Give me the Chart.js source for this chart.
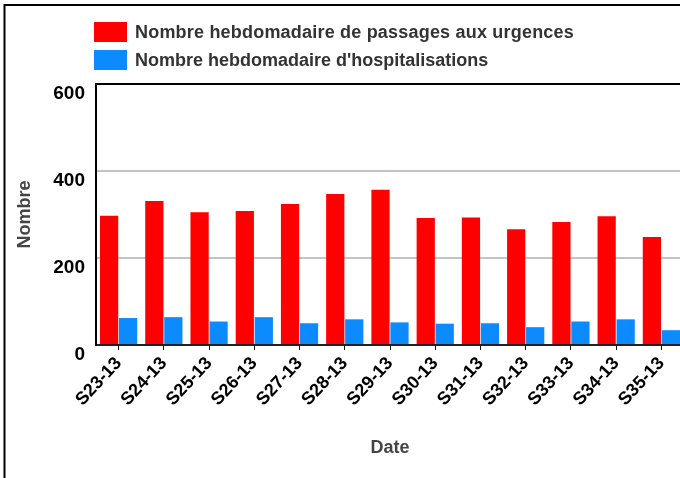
<!DOCTYPE html>
<html>
<head>
<meta charset="utf-8">
<script src="https://cdn.jsdelivr.net/npm/chart.js@4.4.1/dist/chart.umd.min.js"></script>
<style>
  html, body { margin: 0; padding: 0; background: #fff; overflow: hidden; width: 680px; height: 478px; }
  #wrap { position: relative; width: 700px; height: 478px; }
  canvas { position: absolute; left: 0; top: 0; }
  .lg { position: absolute; font-family: "Liberation Sans", Arial, sans-serif; font-weight: bold; font-size: 18px; color: #333; line-height: 20px; white-space: nowrap; }
  .sw { position: absolute; width: 33px; height: 20px; }
</style>
</head>
<body>
<div id="wrap">
  <canvas id="c" width="700" height="478"></canvas>
  <div class="sw" id="sw1" style="left:94px; top:22px;"></div>
  <div class="lg" id="lg1" style="left:135px; top:22px; letter-spacing:0.2px;"></div>
  <div class="sw" id="sw2" style="left:94px; top:50px;"></div>
  <div class="lg" id="lg2" style="left:135px; top:50px;"></div>
</div>
<script>
const weeks = ['S23-13','S24-13','S25-13','S26-13','S27-13','S28-13','S29-13','S30-13','S31-13','S32-13','S33-13','S34-13','S35-13'];
const passages = [297, 331, 305, 308, 324, 347, 357, 292, 293, 266, 283, 296, 248];
const hospitalisations = [62, 64, 54, 64, 50, 59, 52, 49, 50, 41, 54, 59, 34];
const seriesNames = ['Nombre hebdomadaire de passages aux urgences', "Nombre hebdomadaire d'hospitalisations"];
const seriesColors = ['#ff0000', '#0b8bff'];
const yTicks = [0, 200, 400, 600];
const yTitle = 'Nombre';
const xTitle = 'Date';

document.getElementById('sw1').style.background = seriesColors[0];
document.getElementById('sw2').style.background = seriesColors[1];
document.getElementById('lg1').textContent = seriesNames[0];
document.getElementById('lg2').textContent = seriesNames[1];

const framePlugin = {
  id: 'frame',
  beforeDraw(chart) {
    const ctx = chart.ctx;
    ctx.save();
    ctx.fillStyle = '#fff';
    ctx.fillRect(0, 0, chart.width, chart.height);
    ctx.strokeStyle = '#000';
    ctx.lineWidth = 2;
    ctx.beginPath();
    ctx.moveTo(4.5, 2000);
    ctx.lineTo(4.5, 5);
    ctx.lineTo(2000, 5);
    ctx.stroke();
    ctx.restore();
  }
};

new Chart(document.getElementById('c'), {
  type: 'bar',
  data: {
    labels: weeks,
    datasets: [
      { label: seriesNames[0], data: passages, backgroundColor: seriesColors[0], borderWidth: 0,
        categoryPercentage: 0.84, barPercentage: 0.96 },
      { label: seriesNames[1], data: hospitalisations, backgroundColor: seriesColors[1], borderWidth: 0,
        categoryPercentage: 0.84, barPercentage: 0.96 }
    ]
  },
  options: {
    responsive: false,
    animation: false,
    devicePixelRatio: 1,
    layout: { padding: { top: 84, left: 0, right: 16, bottom: 0 } },
    plugins: { legend: { display: false }, tooltip: { enabled: false } },
    scales: {
      x: {
        grid: { display: true, drawOnChartArea: false, drawTicks: true, tickLength: 5, color: '#111', lineWidth: 1, offset: false },
        border: { display: true, color: '#222', width: 2 },
        ticks: { font: { family: 'Liberation Sans', weight: 'bold', size: 18 }, color: '#000',
                 minRotation: 47, maxRotation: 47, autoSkip: false, padding: 3 },
        title: { display: true, text: xTitle, color: '#444',
                 font: { family: 'Liberation Sans', weight: 'bold', size: 18 }, padding: { top: 0, bottom: 19 } },
        afterFit(s) { s.height = 133; s.paddingLeft = 0; s.paddingRight = 0; }
      },
      y: {
        min: 0, max: 600,
        afterBuildTicks(s) { s.ticks = yTicks.map(v => ({ value: v })); },
        grid: {
          drawTicks: false,
          color: c => (c.tick && c.tick.value === 600) ? '#000' : (c.tick && c.tick.value === 0 ? 'rgba(0,0,0,0)' : '#c3c3c3'),
          lineWidth: 2
        },
        border: { display: true, color: '#000', width: 2 },
        ticks: { font: { family: 'Liberation Sans', weight: 'bold', size: 19 }, color: '#000', padding: 11, align: 'start' },
        title: { display: true, text: yTitle, color: '#444',
                 font: { family: 'Liberation Sans', weight: 'bold', size: 18 }, padding: { top: 14, bottom: 0 } },
        afterFit(s) { s.width = 96; s.paddingTop = 0; s.paddingBottom = 0; }
      }
    }
  },
  plugins: [framePlugin]
});
</script>
</body>
</html>
